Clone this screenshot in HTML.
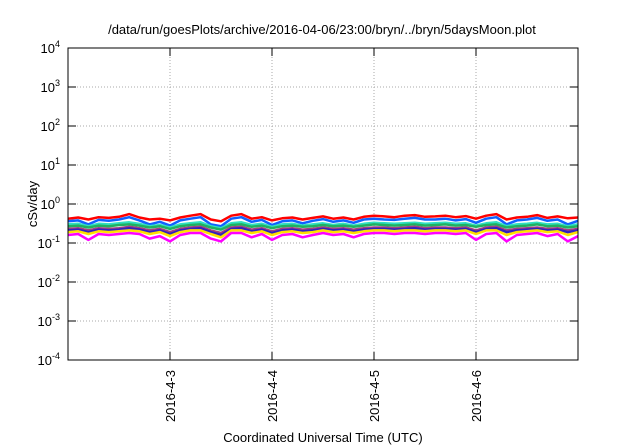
<!DOCTYPE html>
<html><head><meta charset="utf-8"><style>
body{margin:0;background:#fff;}
svg{display:block;font-family:"Liberation Sans",sans-serif;}
</style></head><body>
<svg id="chart" width="640" height="448">
<text x="322" y="34" font-size="13" text-anchor="middle">/data/run/goesPlots/archive/2016-04-06/23:00/bryn/../bryn/5daysMoon.plot</text>
<text transform="translate(37,204) rotate(-90)" font-size="13" text-anchor="middle">cSv/day</text>
<text x="323" y="442" font-size="13" text-anchor="middle">Coordinated Universal Time (UTC)</text>
<g id="grid"></g><g id="series"></g><g id="axes"></g>
</svg>
<script>
const yExps=[-4,-3,-2,-1,0,1,2,3,4];
const xTickDays=[3,4,5,6];
const xTickLabels=["2016-4-3","2016-4-4","2016-4-5","2016-4-6"];
const seriesColors=["#ff0000","#1060ff","#30e0c0","#20b060","#a04080","#3020c0","#ffe000","#ff00ff"];
const red=[0.42,0.45,0.40,0.46,0.44,0.47,0.55,0.45,0.40,0.42,0.38,0.45,0.50,0.55,0.40,0.36,0.50,0.55,0.42,0.46,0.38,0.43,0.45,0.40,0.44,0.48,0.42,0.45,0.40,0.47,0.50,0.48,0.46,0.50,0.52,0.47,0.48,0.50,0.46,0.49,0.42,0.50,0.55,0.40,0.45,0.47,0.52,0.44,0.48,0.43,0.45];
const blue=[0.36,0.38,0.30,0.39,0.37,0.40,0.46,0.38,0.30,0.35,0.28,0.38,0.42,0.46,0.30,0.27,0.42,0.46,0.35,0.39,0.29,0.36,0.38,0.32,0.37,0.41,0.35,0.38,0.33,0.40,0.42,0.40,0.39,0.42,0.44,0.40,0.40,0.42,0.38,0.41,0.33,0.42,0.46,0.30,0.38,0.40,0.44,0.37,0.40,0.30,0.37];
const cyan=[0.30,0.31,0.27,0.31,0.30,0.32,0.34,0.31,0.27,0.29,0.25,0.30,0.32,0.34,0.27,0.24,0.32,0.34,0.29,0.31,0.26,0.30,0.31,0.28,0.30,0.32,0.29,0.31,0.28,0.31,0.33,0.32,0.31,0.32,0.33,0.31,0.32,0.33,0.31,0.32,0.28,0.32,0.34,0.27,0.30,0.31,0.33,0.30,0.31,0.27,0.30];
const green=[0.27,0.28,0.25,0.28,0.27,0.29,0.30,0.28,0.25,0.27,0.23,0.27,0.29,0.30,0.25,0.22,0.29,0.30,0.26,0.28,0.24,0.27,0.28,0.26,0.27,0.29,0.27,0.28,0.26,0.28,0.30,0.29,0.28,0.29,0.30,0.28,0.29,0.30,0.28,0.29,0.26,0.29,0.30,0.25,0.27,0.28,0.30,0.27,0.28,0.25,0.27];
const purple=[0.23,0.24,0.21,0.24,0.23,0.24,0.26,0.24,0.21,0.23,0.19,0.23,0.25,0.26,0.21,0.18,0.25,0.26,0.22,0.24,0.20,0.23,0.24,0.22,0.23,0.25,0.23,0.24,0.22,0.24,0.25,0.25,0.24,0.25,0.26,0.24,0.25,0.25,0.24,0.25,0.21,0.25,0.26,0.21,0.23,0.24,0.25,0.23,0.24,0.21,0.23];
const navy=[0.21,0.22,0.19,0.22,0.21,0.22,0.24,0.22,0.19,0.21,0.17,0.21,0.23,0.24,0.19,0.16,0.23,0.24,0.20,0.22,0.18,0.21,0.22,0.20,0.21,0.23,0.21,0.22,0.20,0.22,0.23,0.23,0.22,0.23,0.24,0.22,0.23,0.23,0.22,0.23,0.19,0.23,0.24,0.19,0.21,0.22,0.23,0.21,0.22,0.19,0.21];
const yellow=[0.19,0.20,0.17,0.20,0.19,0.20,0.21,0.20,0.17,0.19,0.15,0.19,0.21,0.21,0.17,0.14,0.21,0.21,0.18,0.20,0.16,0.19,0.20,0.18,0.19,0.21,0.19,0.20,0.18,0.20,0.21,0.21,0.20,0.21,0.21,0.20,0.21,0.21,0.20,0.21,0.17,0.21,0.21,0.16,0.19,0.20,0.21,0.19,0.20,0.16,0.19];
const magenta=[0.16,0.17,0.12,0.17,0.16,0.17,0.18,0.17,0.13,0.15,0.11,0.16,0.18,0.18,0.13,0.11,0.18,0.18,0.14,0.17,0.12,0.16,0.17,0.14,0.16,0.18,0.16,0.17,0.14,0.17,0.18,0.18,0.17,0.18,0.18,0.17,0.18,0.18,0.17,0.18,0.12,0.17,0.18,0.11,0.16,0.17,0.18,0.15,0.17,0.11,0.15];
const allSeries=[red,blue,cyan,green,purple,navy,yellow,magenta];
const seriesNames=["red","blue","cyan","green","purple","navy","yellow","magenta"];
const dayStart=2,dayEnd=7,step=0.1;

const L=68,R=578,T=48,B=360,NS="http://www.w3.org/2000/svg";
const xs=d=>L+(d-dayStart)/(dayEnd-dayStart)*(R-L);
const ys=v=>B-(Math.log10(v)+4)/8*(B-T);
function mk(tag,attrs,parent){const e=document.createElementNS(NS,tag);for(const k in attrs)e.setAttribute(k,attrs[k]);parent.appendChild(e);return e;}
const grid=document.getElementById('grid'),axes=document.getElementById('axes'),ser=document.getElementById('series');
yExps.forEach(e=>{
  const y=ys(Math.pow(10,e));
  if(e>-4&&e<4){const g=mk('line',{x1:L,x2:R,y1:y,y2:y,stroke:'#aaa','stroke-dasharray':'1,2','stroke-width':1},grid);
  
  }
  mk('line',{x1:L,x2:L+8,y1:y,y2:y,stroke:'#000'},axes);
  mk('line',{x1:R-8,x2:R,y1:y,y2:y,stroke:'#000'},axes);
  const t=mk('text',{x:L-8,y:y+5,'font-size':13,'text-anchor':'end'},axes);
  
  
  t.textContent='10';
  const s=mk('tspan',{dy:-6,'font-size':9},t);s.textContent=String(e);
});
xTickDays.forEach((d,i)=>{
  const x=xs(d);
  const g=mk('line',{x1:x,x2:x,y1:T,y2:B,stroke:'#aaa','stroke-dasharray':'1,2'},grid);
  
  
  mk('line',{x1:x,x2:x,y1:B,y2:B-8,stroke:'#000'},axes);
  mk('line',{x1:x,x2:x,y1:T,y2:T+8,stroke:'#000'},axes);
  const t=mk('text',{transform:`translate(${x+5},${B+10}) rotate(-90)`,'font-size':13,'text-anchor':'end'},axes);
  
  
  t.textContent=xTickLabels[i];
});
const fr=mk('rect',{x:L,y:T,width:R-L,height:B-T,fill:'none',stroke:'#000','stroke-width':1},axes);


allSeries.forEach((arr,si)=>{
  const pts=arr.map((v,i)=>xs(Math.min(dayEnd,dayStart+i*step)).toFixed(1)+','+ys(v).toFixed(1)).join(' ');
  const p=mk('polyline',{points:pts,fill:'none',stroke:seriesColors[si],'stroke-width':2.5,'stroke-linejoin':'round'},ser);
  
  
});
</script>
</body></html>
